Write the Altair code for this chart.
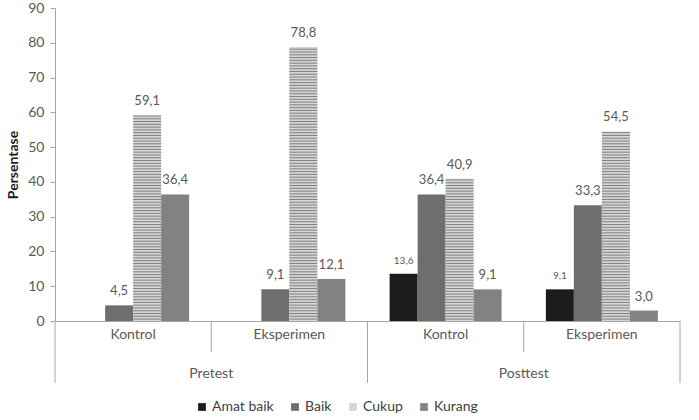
import altair as alt
import pandas as pd

phases = ["Pretest", "Pretest", "Posttest", "Posttest"]
groups = ["Kontrol", "Eksperimen", "Kontrol", "Eksperimen"]
series = ["Amat baik", "Baik", "Cukup", "Kurang"]
amat_baik = [0, 0, 13.6, 9.1]
baik = [4.5, 9.1, 36.4, 33.3]
cukup = [59.1, 78.8, 40.9, 54.5]
kurang = [36.4, 12.1, 9.1, 3.0]
y_ticks = list(range(0, 91, 10))

keys = [f"{p}|{g}" for p, g in zip(phases, groups)]
rows = []
for i, k in enumerate(keys):
    for s, vals in zip(series, [amat_baik, baik, cukup, kurang]):
        rows.append({"key": k, "series": s, "value": vals[i]})
df = pd.DataFrame(rows)

FONT = "Lato"
TXT = "#595959"
AX = "#a6a6a6"
colors = ["#1c1c1c", "#6e6e6e", "#d6d6d6", "#828282"]
TOP = 8
H = 313

xscale = alt.Scale(domain=keys, paddingInner=0, paddingOuter=0)
xaxis = alt.Axis(title=None, labelExpr="split(datum.label, '|')[1]", ticks=False,
                 domainColor=AX, labelColor=TXT, labelFontSize=14, labelPadding=6,
                 labelAngle=0, labelFont=FONT)
x = alt.X("key:N", sort=keys, scale=xscale, axis=xaxis)
xo = alt.XOffset("series:N", sort=series,
                 scale=alt.Scale(domain=series, paddingInner=0, paddingOuter=0.79))
yscale = alt.Scale(domain=[0, 90])
yaxis = alt.Axis(values=y_ticks, title="Persentase", grid=False, domainColor=AX,
                 tickColor=AX, tickSize=5, labelColor=TXT, labelFontSize=14,
                 labelFont=FONT, labelPadding=6, labelOverlap=False, titleFont=FONT,
                 titleFontSize=14, titleFontWeight="bold", titleColor="#1a1a1a",
                 titlePadding=7)

bars = alt.Chart(df).mark_bar().encode(
    x=x, xOffset=xo,
    y=alt.Y("value:Q", scale=yscale, axis=yaxis),
    color=alt.Color("series:N", sort=series,
                    scale=alt.Scale(domain=series, range=colors),
                    legend=alt.Legend(title=None, orient="none", direction="horizontal",
                                      legendX=140, legendY=398 - TOP + 2, symbolType="square",
                                      symbolSize=60, symbolStrokeWidth=0,
                                      labelFont=FONT, labelFontSize=14,
                                      labelColor="#404040", columnPadding=14,
                                      labelOffset=3)),
)

stripes = alt.Chart(df).transform_filter("datum.series == 'Cukup'").transform_calculate(
    s="sequence(0.4, datum.value - 0.2, 0.8)"
).transform_flatten(["s"]).transform_calculate(
    s2="datum.s + 0.3"
).mark_bar(color="#838383").encode(
    x=x, xOffset=xo,
    y=alt.Y("s:Q", scale=yscale, axis=yaxis),
    y2="s2:Q",
)

labels = alt.Chart(df).transform_filter("datum.value > 0").transform_calculate(
    lab="replace(format(datum.value, '.1f'), '.', ',')"
).mark_text(baseline="alphabetic", dy=-10, font=FONT, color=TXT).encode(
    x=x, xOffset=xo,
    y=alt.Y("value:Q", scale=yscale, axis=yaxis),
    text="lab:N",
    size=alt.condition("datum.series == 'Amat baik'", alt.value(10), alt.value(13)),
)

long_df = pd.DataFrame({"key": [keys[0], keys[2]]})
short_df = pd.DataFrame({"key": [keys[1], keys[3]]})
end_df = pd.DataFrame({"key": [keys[3]]})
outer_df = pd.DataFrame({"key": [keys[1], keys[3]], "label": ["Pretest", "Posttest"]})

long_rules = alt.Chart(long_df).mark_rule(color=AX).encode(
    x=alt.X("key:N", sort=keys, scale=xscale, axis=xaxis, bandPosition=0),
    y=alt.value(H), y2=alt.value(H + 62))
end_rule = alt.Chart(end_df).mark_rule(color=AX).encode(
    x=alt.X("key:N", sort=keys, scale=xscale, axis=xaxis, bandPosition=1),
    y=alt.value(H), y2=alt.value(H + 62))
short_rules = alt.Chart(short_df).mark_rule(color=AX).encode(
    x=alt.X("key:N", sort=keys, scale=xscale, axis=xaxis, bandPosition=0),
    y=alt.value(H), y2=alt.value(H + 31))
outer = alt.Chart(outer_df).mark_text(font=FONT, fontSize=14, color=TXT, baseline="middle").encode(
    x=alt.X("key:N", sort=keys, scale=xscale, axis=xaxis, bandPosition=0),
    y=alt.value(H + 53), text="label:N")

chart = alt.layer(bars, stripes, labels, long_rules, end_rule, short_rules, outer).properties(
    width=625, height=H,
    padding={"left": 55, "top": TOP, "right": 19, "bottom": 420 - TOP - H},
    autosize="none",
).configure_view(stroke=None)

chart.save("out.html", embed_options={"renderer": "svg", "actions": False})
